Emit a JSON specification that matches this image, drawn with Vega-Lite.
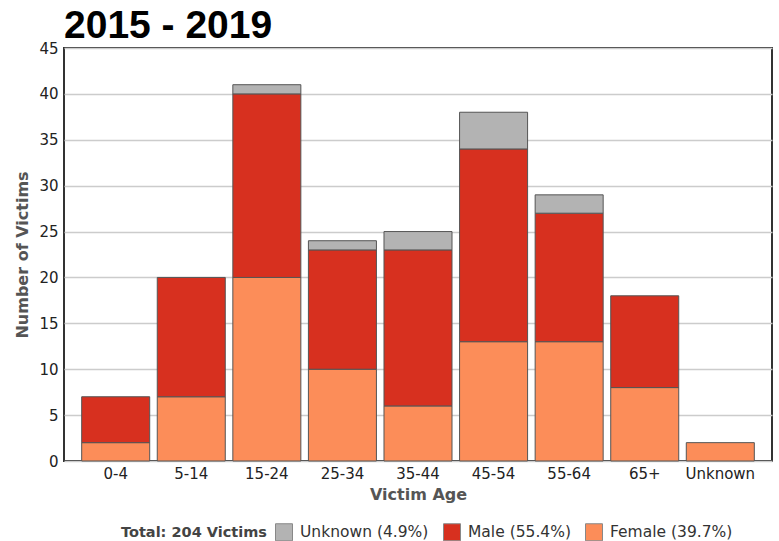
{
  "$schema": "https://vega.github.io/schema/vega-lite/v6.json",
  "autosize": "none",
  "width": 708,
  "height": 413,
  "padding": {"left": 64, "top": 48, "right": 7, "bottom": 80},
  "background": "white",
  "title": {
    "text": "2015 - 2019",
    "anchor": "start",
    "frame": "group",
    "font": "Liberation Sans",
    "fontSize": 39,
    "fontWeight": "bold",
    "color": "#000",
    "offset": -5,
    "dx": 0
  },
  "data": {
    "values": [
      {"age": "0-4", "sex": "Female", "n": 2},
      {"age": "0-4", "sex": "Male", "n": 5},
      {"age": "5-14", "sex": "Female", "n": 7},
      {"age": "5-14", "sex": "Male", "n": 13},
      {"age": "15-24", "sex": "Female", "n": 20},
      {"age": "15-24", "sex": "Male", "n": 20},
      {"age": "15-24", "sex": "Unknown", "n": 1},
      {"age": "25-34", "sex": "Female", "n": 10},
      {"age": "25-34", "sex": "Male", "n": 13},
      {"age": "25-34", "sex": "Unknown", "n": 1},
      {"age": "35-44", "sex": "Female", "n": 6},
      {"age": "35-44", "sex": "Male", "n": 17},
      {"age": "35-44", "sex": "Unknown", "n": 2},
      {"age": "45-54", "sex": "Female", "n": 13},
      {"age": "45-54", "sex": "Male", "n": 21},
      {"age": "45-54", "sex": "Unknown", "n": 4},
      {"age": "55-64", "sex": "Female", "n": 13},
      {"age": "55-64", "sex": "Male", "n": 14},
      {"age": "55-64", "sex": "Unknown", "n": 2},
      {"age": "65+", "sex": "Female", "n": 8},
      {"age": "65+", "sex": "Male", "n": 10},
      {"age": "Unknown", "sex": "Female", "n": 2}
    ]
  },
  "transform": [
    {"calculate": "datum.sex === 'Female' ? 1 : datum.sex === 'Male' ? 2 : 3", "as": "ord"}
  ],
  "mark": {"type": "bar", "stroke": "#555", "strokeWidth": 1},
  "encoding": {
    "x": {
      "field": "age",
      "type": "nominal",
      "sort": ["0-4", "5-14", "15-24", "25-34", "35-44", "45-54", "55-64", "65+", "Unknown"],
      "scale": {"paddingInner": 0.1, "paddingOuter": 0.234},
      "axis": {
        "title": "Victim Age",
        "labelAngle": 0,
        "ticks": false,
        "domain": false,
        "labelPadding": 5,
        "titlePadding": 5
      }
    },
    "y": {
      "field": "n",
      "type": "quantitative",
      "aggregate": "sum",
      "stack": "zero",
      "scale": {"domain": [0, 45], "nice": false},
      "axis": {
        "title": "Number of Victims",
        "values": [0, 5, 10, 15, 20, 25, 30, 35, 40, 45],
        "ticks": false,
        "domain": false,
        "labelPadding": 6,
        "titlePadding": 8
      }
    },
    "color": {
      "field": "sex",
      "type": "nominal",
      "scale": {
        "domain": ["Unknown", "Male", "Female"],
        "range": ["#b3b3b3", "#d7301f", "#fc8d59"]
      },
      "legend": {
        "title": "Total: 204 Victims",
        "orient": "none",
        "legendX": 57,
        "legendY": 475,
        "direction": "horizontal",
        "titleOrient": "left",
        "titlePadding": 8,
        "labelExpr": "datum.label === 'Unknown' ? 'Unknown (4.9%)' : datum.label === 'Male' ? 'Male (55.4%)' : 'Female (39.7%)'",
        "symbolType": "square",
        "symbolSize": 289,
        "symbolStrokeColor": "#888",
        "symbolStrokeWidth": 1,
        "symbolOpacity": 1,
        "labelOffset": 7,
        "columnPadding": 12
      }
    },
    "order": {"field": "ord", "type": "quantitative"}
  },
  "config": {
    "font": "DejaVu Sans",
    "view": {"stroke": "#333", "strokeWidth": 2},
    "axis": {
      "labelFont": "DejaVu Sans",
      "labelFontSize": 15,
      "labelColor": "#222",
      "titleFont": "DejaVu Sans",
      "titleFontSize": 16,
      "titleFontWeight": "bold",
      "titleColor": "#555",
      "gridColor": "#ccc",
      "gridWidth": 1.5
    },
    "axisX": {"grid": false},
    "legend": {
      "labelFont": "DejaVu Sans",
      "labelFontSize": 15.5,
      "labelColor": "#333",
      "titleFont": "DejaVu Sans",
      "titleFontSize": 14.5,
      "titleFontWeight": "bold",
      "titleColor": "#444"
    }
  }
}
